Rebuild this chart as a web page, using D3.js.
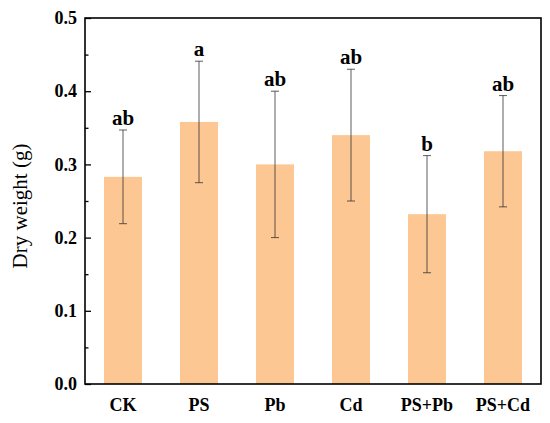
<!DOCTYPE html>
<html>
<head>
<meta charset="utf-8">
<script src="https://cdn.jsdelivr.net/npm/d3@7"></script>
<style>
  body { margin: 0; background: #fff; }
  text { font-family: "Liberation Serif", "Times New Roman", serif; }
</style>
</head>
<body>
<svg width="550" height="423"></svg>
<script>
var groups = ["CK", "PS", "Pb", "Cd", "PS+Pb", "PS+Cd"];
var means = [0.283, 0.358, 0.300, 0.340, 0.232, 0.318];
var errs = [0.064, 0.083, 0.100, 0.090, 0.080, 0.076];
var letters = ["ab", "a", "ab", "ab", "b", "ab"];
var yTicks = [0.0, 0.1, 0.2, 0.3, 0.4, 0.5];
var yMinorTicks = [0.05, 0.15, 0.25, 0.35, 0.45];

var svg = d3.select("svg"),
    plotLeft = 85, plotRight = 541, plotTop = 18, plotBottom = 384;

var xScale = d3.scaleBand().domain(groups).range([plotLeft, plotRight]).paddingInner(0.5).paddingOuter(0.25);
var yScale = d3.scaleLinear().domain([0, 0.5]).range([plotBottom, plotTop]);

// bars
svg.selectAll(".bar")
    .data(means)
    .enter()
    .append("rect")
    .attr("class", "bar")
    .attr("x", function (d, i) { return xScale(groups[i]); })
    .attr("y", function (d) { return yScale(d); })
    .attr("width", xScale.bandwidth())
    .attr("height", function (d) { return plotBottom - yScale(d); })
    .attr("fill", "#fdc794");

// error bars + letters
var eg = svg.append("g").attr("stroke", "#333").attr("stroke-width", 0.8);
means.forEach(function (m, i) {
    var cx = xScale(groups[i]) + xScale.bandwidth() / 2;
    var y1 = yScale(m + errs[i]), y2 = yScale(m - errs[i]);
    eg.append("line").attr("x1", cx).attr("x2", cx).attr("y1", y1).attr("y2", y2);
    eg.append("line").attr("x1", cx - 4).attr("x2", cx + 4).attr("y1", y1).attr("y2", y1);
    eg.append("line").attr("x1", cx - 4).attr("x2", cx + 4).attr("y1", y2).attr("y2", y2);
    svg.append("text")
        .attr("x", cx)
        .attr("y", y1 - 5)
        .attr("text-anchor", "middle")
        .attr("font-size", "21px")
        .attr("font-weight", "bold")
        .text(letters[i]);
});

// y axis (ticks inward)
var yAxis = svg.append("g")
    .attr("transform", "translate(" + plotLeft + ",0)")
    .call(d3.axisRight(yScale).tickValues(yTicks).tickSize(6).tickFormat(d3.format(".1f")));
yAxis.select(".domain").remove();
yAxis.selectAll("line").attr("stroke-width", 1.3);
yAxis.selectAll("text")
    .attr("x", -8)
    .attr("text-anchor", "end")
    .attr("font-size", "18px")
    .attr("font-weight", "bold")
    .attr("fill", "#000")
    .style("font-family", "'Liberation Serif', serif");

var yMinor = svg.append("g")
    .attr("transform", "translate(" + plotLeft + ",0)")
    .call(d3.axisRight(yScale).tickValues(yMinorTicks).tickSize(3.5).tickFormat(""));
yMinor.select(".domain").remove();
yMinor.selectAll("line").attr("stroke-width", 1.3);

// x axis labels
var xAxis = svg.append("g")
    .attr("transform", "translate(0," + plotBottom + ")")
    .call(d3.axisBottom(xScale).tickSize(0).tickPadding(14));
xAxis.select(".domain").remove();
xAxis.selectAll("text")
    .attr("font-size", "18px")
    .attr("font-weight", "bold")
    .attr("fill", "#000")
    .style("font-family", "'Liberation Serif', serif");

// frame
svg.append("rect")
    .attr("x", plotLeft)
    .attr("y", plotTop)
    .attr("width", plotRight - plotLeft)
    .attr("height", plotBottom - plotTop)
    .attr("fill", "none")
    .attr("stroke", "#000")
    .attr("stroke-width", 1.6);

// y title
svg.append("text")
    .attr("transform", "translate(27,206) rotate(-90)")
    .attr("text-anchor", "middle")
    .attr("font-size", "21px")
    .text("Dry weight (g)");
</script>
</body>
</html>
